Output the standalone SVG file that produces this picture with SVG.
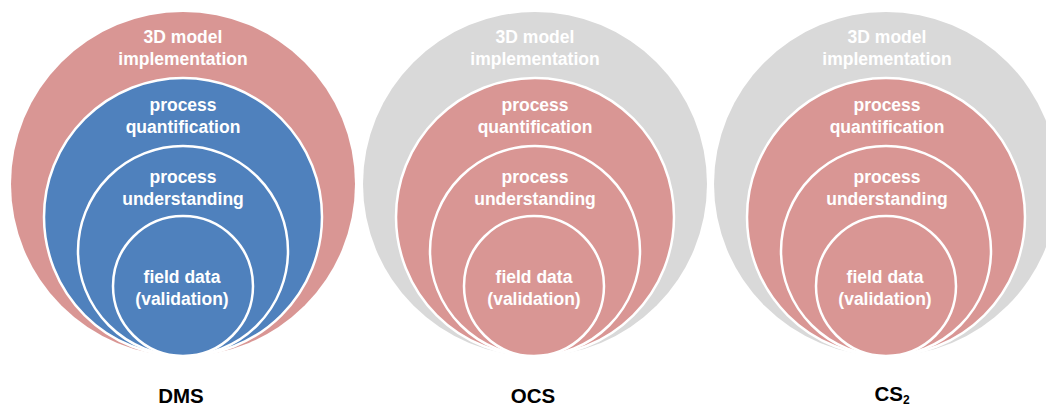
<svg xmlns="http://www.w3.org/2000/svg" width="1046" height="409" viewBox="0 0 1046 409">
<style>
.pink{fill:#D99694}
.blue{fill:#4F81BD}
.grey{fill:#D9D9D9}
.ring{stroke:#FFFFFF;stroke-width:2.5}
.t{font-family:"Liberation Sans",Arial,sans-serif;font-weight:bold;font-size:17.5px;fill:#FFFFFF;text-anchor:middle}
.lbl{font-family:"Liberation Sans",Arial,sans-serif;font-weight:bold;font-size:20.5px;fill:#000000;text-anchor:middle}
.sub{font-size:12px}
</style>
<rect width="1046" height="409" fill="#FFFFFF"/>
<g id="dms">
  <g id="dms-3d"><circle class="pink" cx="183" cy="184" r="172"/>
    <text class="t" x="183" y="43">3D model</text><text class="t" x="183" y="65">implementation</text></g>
  <g id="dms-quant"><circle class="blue ring" cx="183" cy="217" r="139"/>
    <text class="t" x="183" y="111">process</text><text class="t" x="183" y="133">quantification</text></g>
  <g id="dms-under"><circle class="blue ring" cx="183" cy="251" r="105"/>
    <text class="t" x="183" y="183">process</text><text class="t" x="183" y="205">understanding</text></g>
  <g id="dms-field"><circle class="blue ring" cx="183" cy="286" r="70"/>
    <text class="t" x="182" y="283">field data</text><text class="t" x="182" y="305">(validation)</text></g>
  <text id="dms-label" class="lbl" x="181" y="403">DMS</text>
</g>
<g id="ocs">
  <g id="ocs-3d"><circle class="grey" cx="535" cy="184" r="172"/>
    <text class="t" x="535" y="43">3D model</text><text class="t" x="535" y="65">implementation</text></g>
  <g id="ocs-quant"><circle class="pink ring" cx="535" cy="217" r="139"/>
    <text class="t" x="535" y="111">process</text><text class="t" x="535" y="133">quantification</text></g>
  <g id="ocs-under"><circle class="pink ring" cx="535" cy="251" r="105"/>
    <text class="t" x="535" y="183">process</text><text class="t" x="535" y="205">understanding</text></g>
  <g id="ocs-field"><circle class="pink ring" cx="534" cy="286" r="70"/>
    <text class="t" x="534" y="283">field data</text><text class="t" x="534" y="305">(validation)</text></g>
  <text id="ocs-label" class="lbl" x="533" y="403">OCS</text>
</g>
<g id="cs2">
  <g id="cs2-3d"><circle class="grey" cx="886" cy="184" r="172"/>
    <text class="t" x="887" y="43">3D model</text><text class="t" x="887" y="65">implementation</text></g>
  <g id="cs2-quant"><circle class="pink ring" cx="886" cy="217" r="139"/>
    <text class="t" x="887" y="111">process</text><text class="t" x="887" y="133">quantification</text></g>
  <g id="cs2-under"><circle class="pink ring" cx="886" cy="251" r="105"/>
    <text class="t" x="887" y="183">process</text><text class="t" x="887" y="205">understanding</text></g>
  <g id="cs2-field"><circle class="pink ring" cx="886" cy="286" r="70"/>
    <text class="t" x="885" y="283">field data</text><text class="t" x="885" y="305">(validation)</text></g>
  <text id="cs2-label" class="lbl" x="892" y="401">CS<tspan class="sub" dy="3">2</tspan></text>
</g>
<g id="connectors"></g>
</svg>
